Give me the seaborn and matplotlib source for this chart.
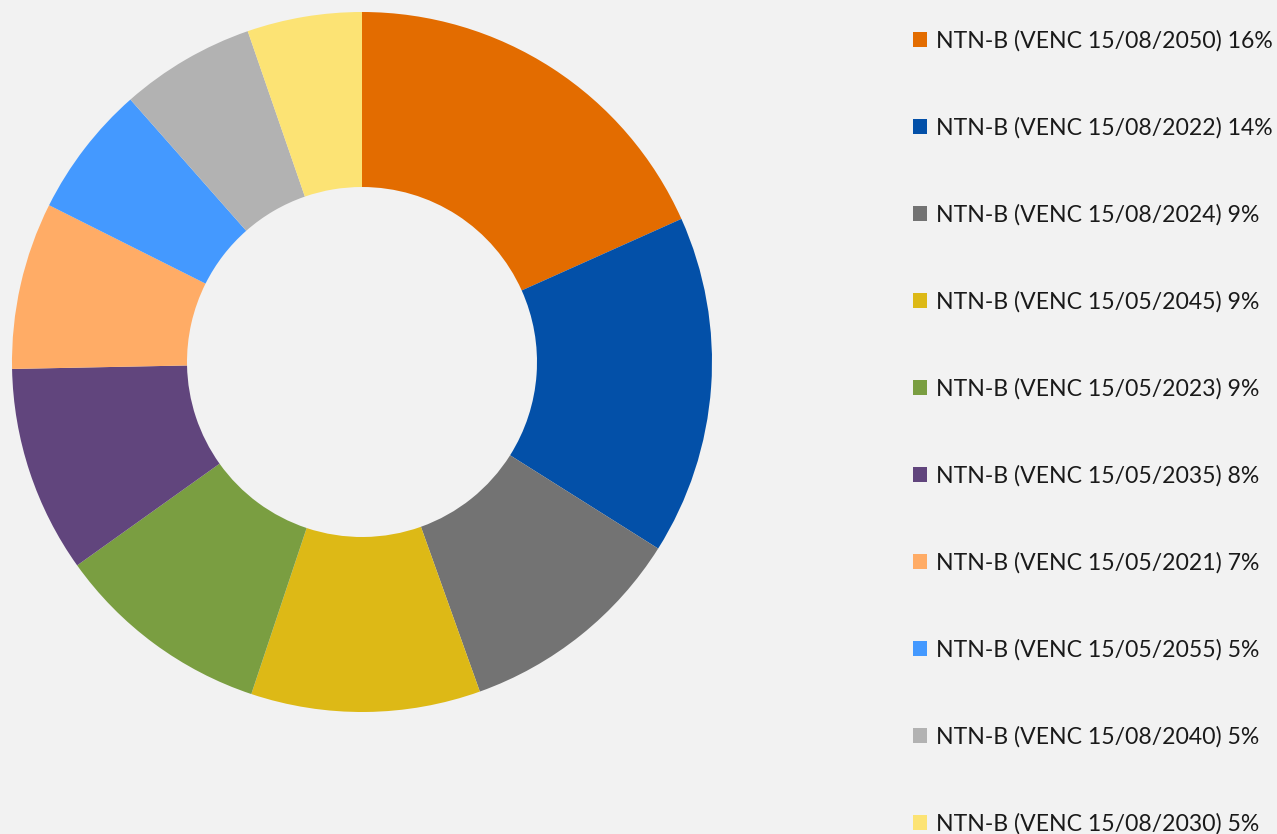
import matplotlib
matplotlib.use("Agg")
import matplotlib.pyplot as plt
from matplotlib.patches import Patch
import seaborn as sns

maturities = [
    "15/08/2050", "15/08/2022", "15/08/2024", "15/05/2045", "15/05/2023",
    "15/05/2035", "15/05/2021", "15/05/2055", "15/08/2040", "15/08/2030",
]
shares = [15.9, 13.6, 9.2, 9.2, 8.7, 8.3, 6.7, 5.3, 5.4, 4.6]
colors = ["#E36C00", "#0350A8", "#737373", "#DDB916", "#7A9E41",
          "#61457D", "#FFAC66", "#4499FF", "#B2B2B2", "#FCE374"]

labels = [f"NTN-B (VENC {m}) {s:.0f}%" for m, s in zip(maturities, shares)]

bg = "#F2F2F2"
sns.set_theme(style="white")
plt.rcParams["font.family"] = ["Lato", "DejaVu Sans"]

fig = plt.figure(figsize=(12.77, 8.34), dpi=100, facecolor=bg)
ax = fig.add_axes([12 / 1277, 1 - 712 / 834, 700 / 1277, 700 / 834])
ax.set_facecolor(bg)
ax.pie(shares, colors=colors, startangle=90, counterclock=False, radius=1.0,
       wedgeprops=dict(width=0.5, linewidth=0, edgecolor=bg))
ax.set_xlim(-1, 1)
ax.set_ylim(-1, 1)
ax.set_aspect("equal")
ax.axis("off")

handles = [Patch(facecolor=c, edgecolor="none", label=l) for c, l in zip(colors, labels)]
fig.legend(handles=handles, loc="upper left", bbox_to_anchor=(913 / 1277, 1 - 30 / 834),
           frameon=False, fontsize=16.6, handlelength=0.6, handleheight=0.6,
           handletextpad=0.4, labelspacing=2.84, borderaxespad=0, borderpad=0,
           labelcolor="#1a1a1a")

fig.savefig("out.png", dpi=100, facecolor=bg)
